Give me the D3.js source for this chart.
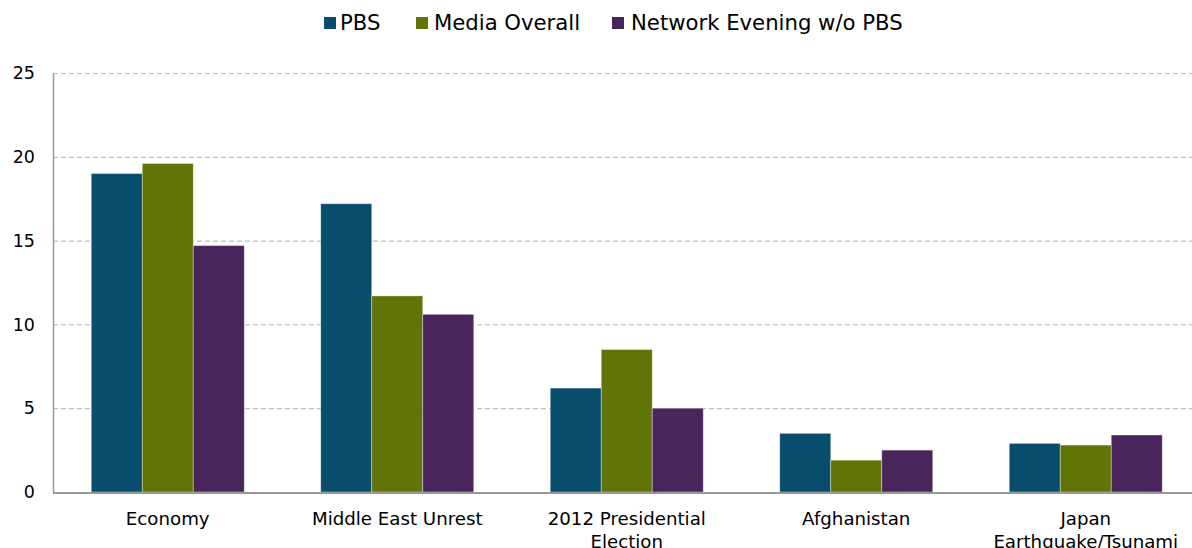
<!DOCTYPE html>
<html><head><meta charset="utf-8">
<script src="https://cdn.jsdelivr.net/npm/d3@7"></script>
<style>body{margin:0;background:#fff}svg{display:block}text{font-family:"DejaVu Sans",Verdana,sans-serif;fill:#000}</style>
</head><body><svg id="c" width="1192" height="548"></svg>
<script>
const categories = [["Economy"],["Middle East Unrest"],["2012 Presidential","Election"],["Afghanistan"],["Japan","Earthquake/Tsunami"]];
const seriesNames = ["PBS","Media Overall","Network Evening w/o PBS"];
const pbs = [19.0, 17.2, 6.2, 3.5, 2.9];
const mediaOverall = [19.6, 11.7, 8.5, 1.9, 2.8];
const networkEvening = [14.7, 10.6, 5.0, 2.5, 3.4];
const yTicks = [0,5,10,15,20,25];
const colors = ["#094d6c","#607408","#48255a"];

(function(){
const series = [pbs, mediaOverall, networkEvening];
const svg = d3.select("#c");
const pLeft = 53, pRight = 1200.5, pTop = 73, pBottom = 492;
const x = d3.scaleBand().domain(d3.range(categories.length)).range([pLeft,pRight]).paddingInner(1/3).paddingOuter(1/6);
const xs = d3.scaleBand().domain(d3.range(series.length)).range([0,x.bandwidth()]);
const y = d3.scaleLinear().domain([0,25]).range([pBottom,pTop]);

// grid
svg.append("g").selectAll("line").data(yTicks.filter(d=>d>0)).join("line")
  .attr("x1",pLeft).attr("x2",1192).attr("y1",d=>y(d)+0.5).attr("y2",d=>y(d)+0.5)
  .attr("stroke","#c0c0c0").attr("stroke-width",1.2).attr("stroke-dasharray","5,3");

// bars
series.forEach((vals,si)=>{
  svg.append("g").selectAll("rect").data(vals).join("rect")
    .attr("x",(d,i)=>x(i)+xs(si)).attr("width",xs.bandwidth())
    .attr("y",d=>y(d)).attr("height",d=>pBottom-y(d))
    .attr("fill",colors[si]).attr("stroke","rgba(255,255,255,0.45)").attr("stroke-width",0.8);
});

// y axis
const ya = svg.append("g").attr("transform",`translate(${pLeft},0)`)
  .call(d3.axisLeft(y).tickValues(yTicks).tickSize(0).tickPadding(18));
ya.select(".domain").attr("stroke","#999").attr("stroke-width",1.5);
ya.selectAll("text").attr("font-size",17.5).attr("fill","#000").style("font-family","DejaVu Sans, Verdana, sans-serif");

// x axis line
svg.append("line").attr("x1",pLeft).attr("x2",1192).attr("y1",pBottom+1).attr("y2",pBottom+1).attr("stroke","#999").attr("stroke-width",2);

// category labels
const xa = svg.append("g");
categories.forEach((lines,i)=>{
  const cx = x(i)+x.bandwidth()/2;
  const t = xa.append("text").attr("text-anchor","middle").attr("font-size",18.2)
    .attr("x",cx).attr("y",525);
  lines.forEach((l,j)=>t.append("tspan").attr("x",cx).attr("dy",j?22.5:0).text(l));
});

// legend
const legendSq = [324, 416, 612];
const legendTx = [340, 434, 631];
seriesNames.forEach((n,i)=>{
  svg.append("rect").attr("x",legendSq[i]).attr("y",17).attr("width",12).attr("height",12).attr("fill",colors[i]);
  svg.append("text").attr("x",legendTx[i]).attr("y",29.5).attr("font-size",21.2).text(n);
});
})();
</script></body></html>
